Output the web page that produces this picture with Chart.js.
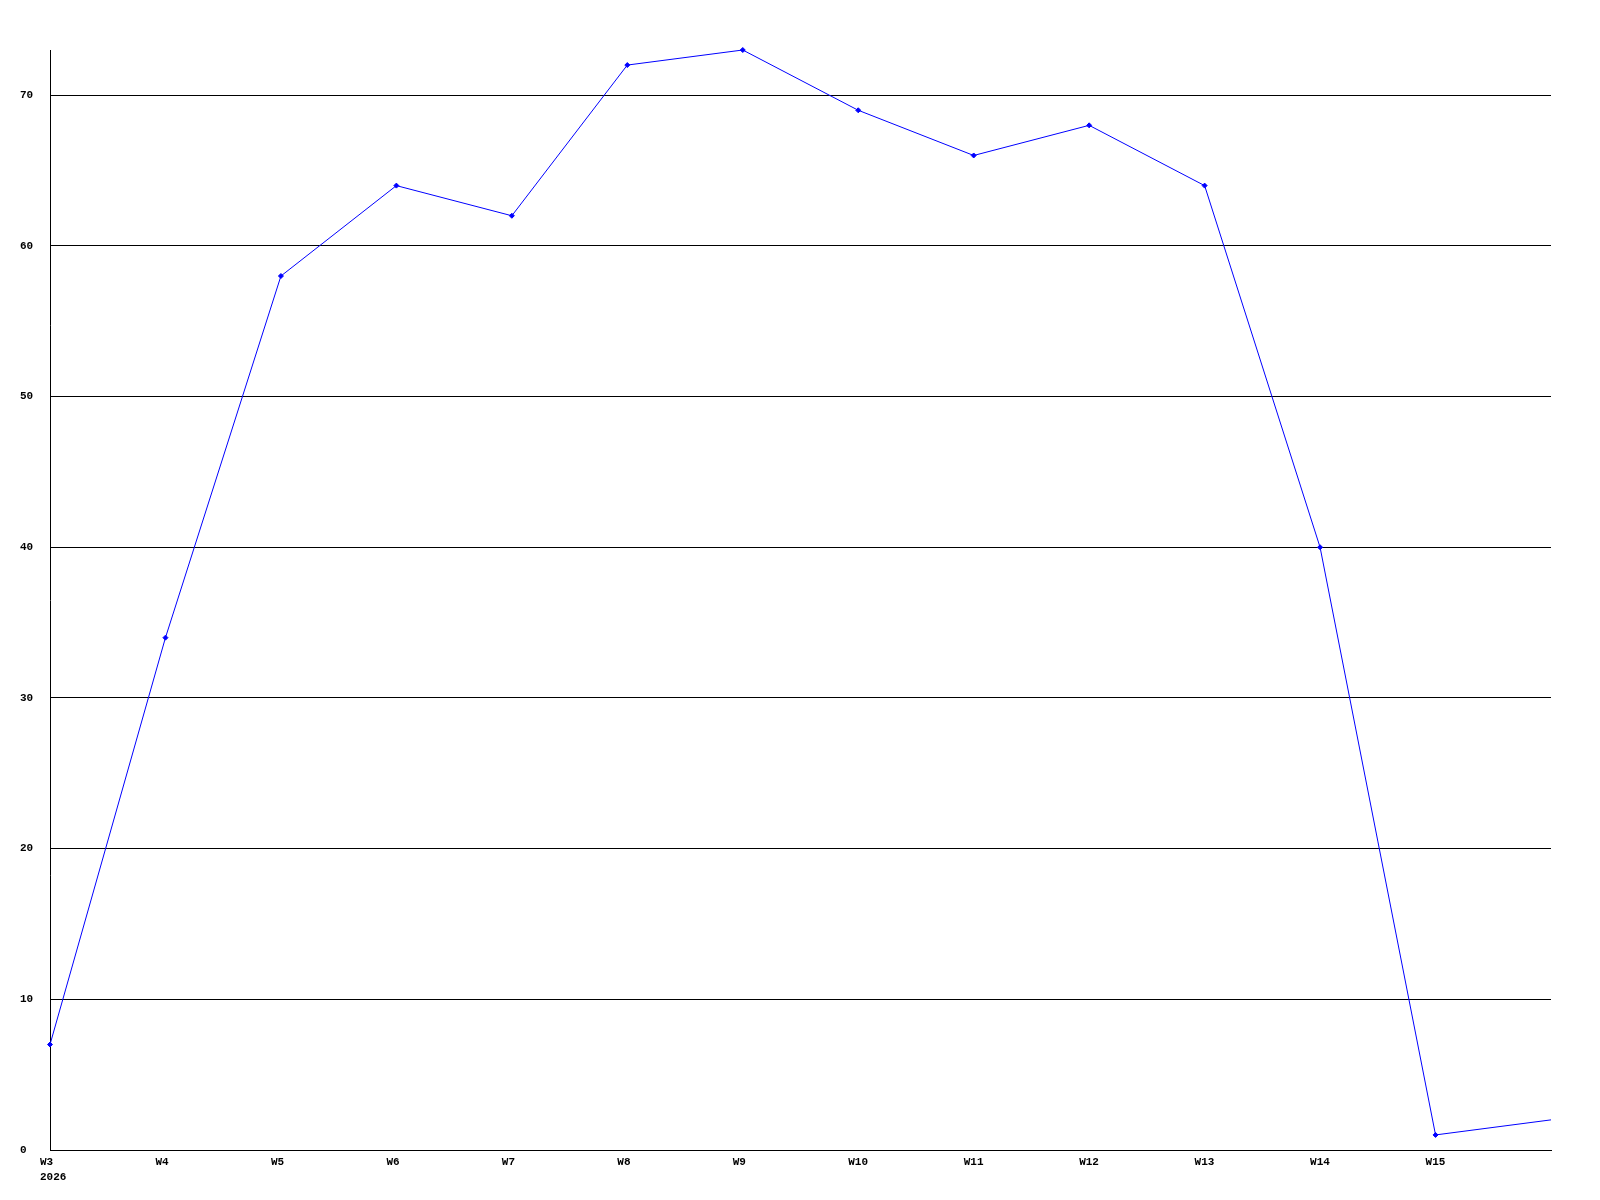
<!DOCTYPE html>
<html>
<head>
<meta charset="utf-8">
<script src="https://cdn.jsdelivr.net/npm/chart.js@4/dist/chart.umd.min.js"></script>
<style>
  html, body { margin: 0; padding: 0; background: #fff; }
  canvas { display: block; }
</style>
</head>
<body>
<canvas id="weeklyChart" width="1600" height="1200"></canvas>
<script>
const weeks = ['W3', 'W4', 'W5', 'W6', 'W7', 'W8', 'W9', 'W10', 'W11', 'W12', 'W13', 'W14', 'W15', 'W16'];
const counts = [7, 34, 58, 64, 62, 72, 73, 69, 66, 68, 64, 40, 1, 2];
const yearLabel = '2026';
const yTicks = [0, 10, 20, 30, 40, 50, 60, 70];

const tickFont = { family: '"Liberation Mono", "DejaVu Sans Mono", monospace', size: 11, weight: 'bold', lineHeight: 1.36 };

document.addEventListener('DOMContentLoaded', function () {
    const ctx = document.getElementById('weeklyChart');
    new Chart(ctx, {
        type: 'line',
        data: {
            labels: weeks,
            datasets: [{
                data: counts,
                borderColor: '#0000ff',
                backgroundColor: '#0000ff',
                borderWidth: 1,
                pointStyle: 'rectRot',
                // last (partial) week has no marker in the original
                pointRadius: c => c.dataIndex === weeks.length - 1 ? 0 : 2.5,
                pointHoverRadius: 2.5,
                pointBorderWidth: 1,
                tension: 0,
                fill: false,
                clip: false
            }]
        },
        options: {
            responsive: false,
            animation: false,
            events: [],
            layout: { padding: { left: 20, top: 50, right: 49, bottom: 0 } },
            plugins: { legend: { display: false }, tooltip: { enabled: false } },
            scales: {
                x: {
                    offset: false,
                    grid: { display: false, drawTicks: false },
                    border: { display: true, color: '#000', width: 1 },
                    afterFit: s => { s.height = 50; },
                    ticks: {
                        color: '#000',
                        font: tickFont,
                        autoSkip: false,
                        maxRotation: 0,
                        align: 'start',
                        labelOffset: -10,
                        padding: 5,
                        callback: function (v, i) {
                            if (i === weeks.length - 1) return '';
                            return i === 0 ? [weeks[i], yearLabel] : weeks[i];
                        }
                    }
                },
                y: {
                    min: 0,
                    max: Math.max(...counts),
                    grid: { color: '#000', lineWidth: 1, drawTicks: false },
                    border: { display: true, color: '#000', width: 1 },
                    afterFit: s => { s.width = 30; },
                    afterBuildTicks: s => { s.ticks = yTicks.map(v => ({ value: v })); },
                    ticks: {
                        color: '#000',
                        font: tickFont,
                        crossAlign: 'far',
                        includeBounds: false
                    }
                }
            }
        }
    });
});
</script>
</body>
</html>
